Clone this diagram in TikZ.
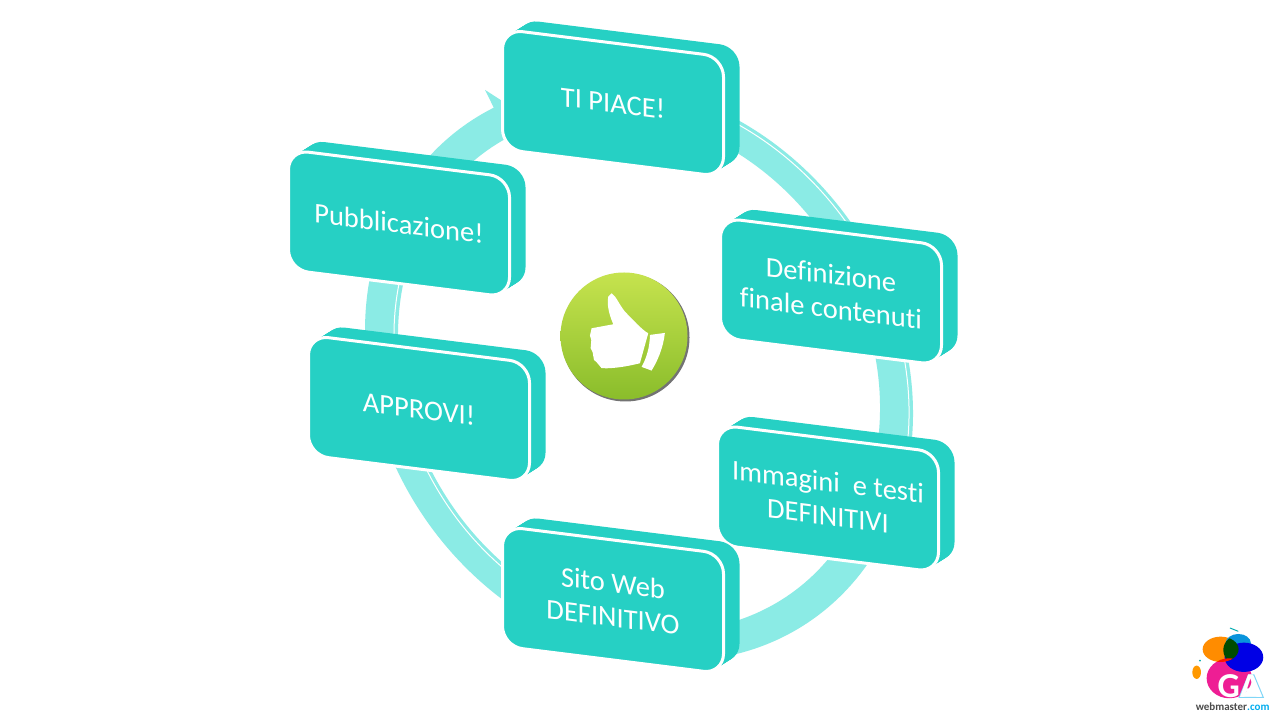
\documentclass[tikz,border=0pt]{standalone}
\usepackage{fontspec}
\setmainfont[RawFeature={-liga;-clig}]{Carlito}
\usetikzlibrary{positioning}
\definecolor{boxteal}{HTML}{26D0C4}
\definecolor{ringteal}{HTML}{8BEBE5}
\definecolor{badgetop}{HTML}{C6E34E}
\definecolor{badgebottom}{HTML}{8ABD2B}
\tikzset{
  boxface/.style={rectangle, rounded corners=20pt, minimum width=221pt, minimum height=120pt,
    yslant=-0.125, transform shape, fill=boxteal, align=center, text=white, font=\fontsize{28.5}{34}\selectfont},
  boxback/.style={boxface, draw=none},
  boxfront/.style={boxface, draw=white, line width=3pt},
}
% one box with its thick side
\newcommand{\slantbox}[4]{%
  \foreach \d in {16,15,...,1}
    \node[boxback] (#1-\d) at ([shift={(\d,0.63*\d)}]#2,#3) {};
  \node[boxfront] (#1) at (#2,#3) {#4};
}
\begin{document}
\begin{tikzpicture}[x=1pt,y=1pt]
  \useasboundingbox (0,0) rectangle (1280,720);
  \fill[white] (0,0) rectangle (1280,720);

  % ring
  \begin{scope}[shift={(639,348)},yslant=-0.15]
    \fill[ringteal] (95:274 and 286) arc[start angle=95,end angle=-238,x radius=274,y radius=286]
      -- (-154,259) -- (-79,222) -- (-127,205) -- (122:241 and 256)
      arc[start angle=-238,end angle=95,x radius=241,y radius=256] -- cycle;
    \draw[white,line width=1pt] (75:270 and 282) arc[start angle=75,end angle=-14,x radius=270,y radius=282];
    \draw[white,line width=1pt] (-118:245 and 260) arc[start angle=-118,end angle=-192,x radius=245,y radius=260];
  \end{scope}

  % boxes
  \slantbox{piace}{613}{617}{TI PIACE!}
  \slantbox{definizione}{831}{428.5}{Definizione\\finale contenuti}
  \slantbox{immagini}{828}{221.5}{Immagini\ \ e testi\\DEFINITIVI}
  \slantbox{sito}{613}{120}{Sito Web\\DEFINITIVO}
  \slantbox{approvi}{419}{311}{APPROVI!}
  \slantbox{pubblicazione}{399}{496.5}{Pubblicazione!}

  % badge
  \fill[black!55] (625.5,382.5) circle (64);
  \node[circle,minimum size=127pt,inner sep=0pt,top color=badgetop,bottom color=badgebottom] (badge) at (624,384) {};
  \begin{scope}[shift={(550,455)},x=.333pt,y=-.333pt]
    \fill[white] (185,85) .. controls (200,95) and (205,115) .. (225,140) -- (262,178)
      .. controls (275,190) and (285,200) .. (295,205) -- (270,295)
      .. controls (250,300) and (200,312) .. (155,310) -- (140,292) -- (132,285) -- (128,262) -- (122,250) -- (124,225) -- (120,212) -- (125,190)
      -- (190,178) .. controls (178,150) and (170,120) .. (175,95) -- cycle;
    \fill[white] (300,210) -- (345,204) .. controls (340,250) and (322,290) .. (305,317)
      -- (275,306) .. controls (290,280) and (300,245) .. (300,210) -- cycle;
  \end{scope}

  % logo
  \begin{scope}[shift={(1180,100)},x=.333pt,y=-.333pt]
    \fill[magenta!85!pink] (148,175) ellipse (68 and 60);
    \fill[orange!90!yellow] (122,88) ellipse (54 and 38);
    \fill[cyan!80!blue] (175,70) ellipse (38 and 28);
    \fill[blue!90!black] (192,112) ellipse (58 and 44);
    \begin{scope}
      \clip (122,88) ellipse (54 and 38);
      \fill[green!30!black] (180,90) ellipse (50 and 45);
      \fill[red!85!orange] (148,175) ellipse (68 and 60);
    \end{scope}
    \fill[orange!80!yellow] (50,157) ellipse (13 and 20);
    \fill[cyan!60!green] (60,122) circle (3);
    \draw[cyan!60!green,line width=1pt] (150,24) -- (175,34);
    \draw[cyan!50,line width=1pt] (178,232) -- (206,165) -- (222,165) -- (250,232) -- cycle;
    \node[text=white,inner sep=0pt,font=\bfseries\fontsize{35}{35}\selectfont] (logoga) at (178,198) {GA};
    \node[text=black!70,font=\bfseries\fontsize{11}{12}\selectfont,inner sep=0pt] (logotext) at (158,260) {webmaster\textcolor{cyan}{.com}};
  \end{scope}
\end{tikzpicture}
\end{document}
